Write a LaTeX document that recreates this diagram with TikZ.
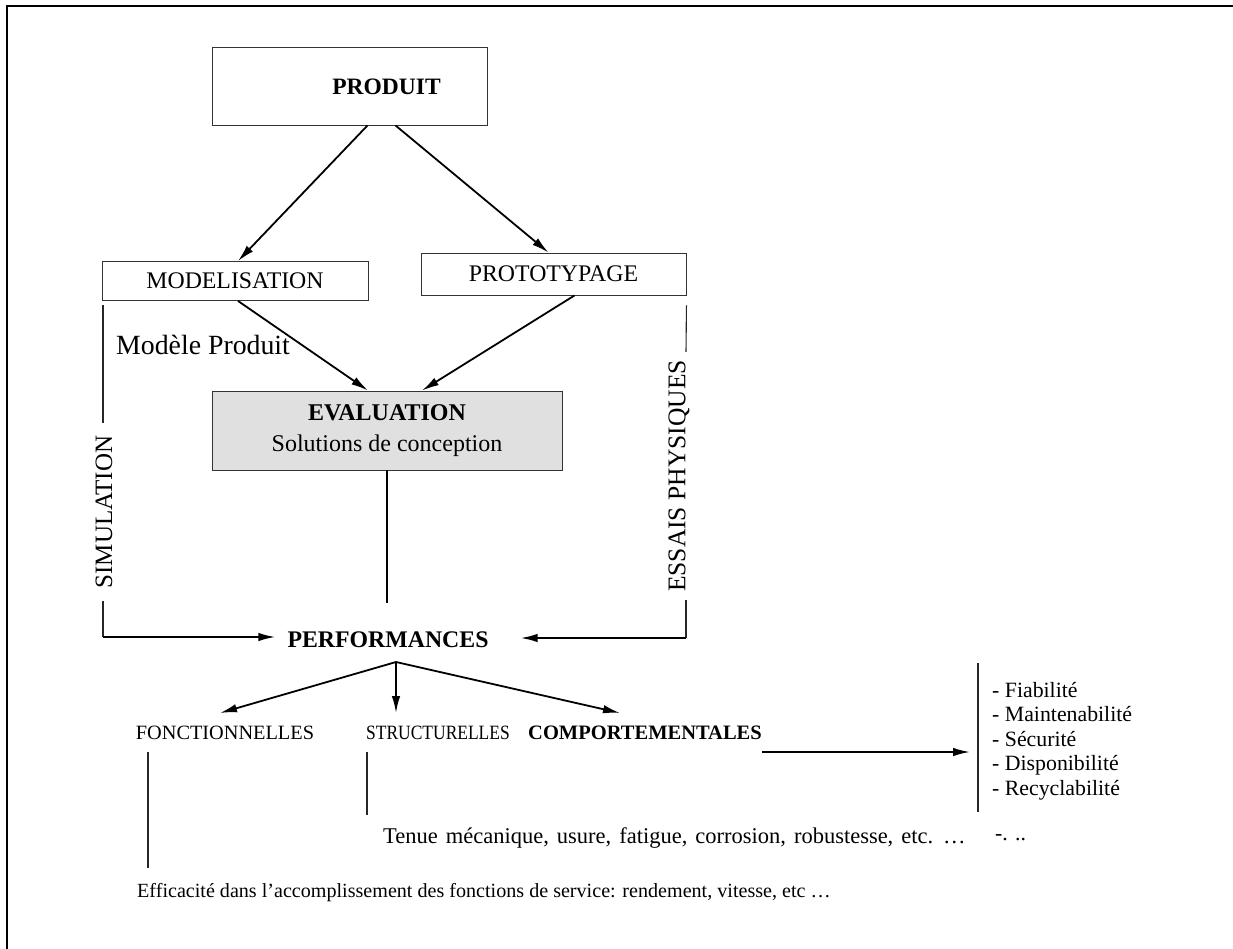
\documentclass[tikz,border=0pt]{standalone}
\usepackage{fontspec}
\usepackage{graphicx}
\setmainfont{Liberation Serif}
\usetikzlibrary{arrows.meta}
\begin{document}
\begin{tikzpicture}[x=1pt,y=-1pt,
  box/.style={draw=black!80, line width=0.9pt, inner sep=0pt},
  conn/.style={line width=1.8pt},
  thin line/.style={line width=1.1pt, draw=black!85},
  arr/.style={conn, -{Latex[length=17pt,width=8.5pt]}},
  big/.style={font=\fontsize{23.8}{27}\selectfont},
  mid/.style={font=\fontsize{20.3}{23}\selectfont},
  small/.style={font=\fontsize{21.8}{24.5}\selectfont},
  lbl/.style={inner sep=0pt}
]
\useasboundingbox (0,0) rectangle (1233,949);
% frame
\draw[line width=2pt] (1233,6) -- (7,6) -- (7,949);

% boxes
\node[box, minimum width=275pt, minimum height=78pt] (produit) at (349.5,86) {};
\node[lbl, font=\fontsize{23.5}{27}\selectfont] (produittext) at (386.5,87) {\bfseries PRODUIT};
\node[box, big, minimum width=266pt, minimum height=39pt] (model) at (235,281) {MODELISATION};
\node[box, big, minimum width=265pt, minimum height=42pt] (proto) at (553.5,274) {PROTOTYPAGE};
\node[box, fill=black!12, minimum width=350pt, minimum height=79pt, align=center,
      font=\fontsize{24}{31}\selectfont] (eval) at (387,430.5)
      {\bfseries EVALUATION\\Solutions de conception};
\node[lbl, font=\fontsize{27.8}{30}\selectfont, anchor=west] (modprod) at (116,345) {Modèle Produit};

% arrows between the boxes
\draw[arr] ([xshift=18pt]produit.south) -- ([xshift=3pt]model.north);
\draw[arr] ([xshift=46pt]produit.south) -- ([xshift=-5pt]proto.north);
\draw[arr] ([xshift=3pt]model.south) -- ([xshift=-19pt]eval.north);
\draw[arr] ([xshift=21pt]proto.south) -- ([xshift=35pt]eval.north);

% performances
\node[lbl, big] (perf) at (388,640) {\bfseries PERFORMANCES};
\coordinate (evalend) at (387,603);
\draw[conn, line width=1.2pt] (eval.south) -- (evalend);

% simulation branch
\node[font=\fontsize{25}{28}\selectfont, rotate=90, inner xsep=12pt, inner ysep=0pt] (sim) at (104,512) {SIMULATION};
\coordinate (simcorner) at (103,637);
\draw[thin line] ([yshift=-4pt]model.south west -| simcorner) -- (sim.east -| simcorner);
\draw[thin line] (sim.west -| simcorner) -- (simcorner);
\draw[arr] (simcorner) -- ([xshift=-12pt]perf.west |- simcorner);

% physical tests branch
\node[font=\fontsize{25.5}{29}\selectfont, rotate=90, inner xsep=8pt, inner ysep=0pt] (ess) at (679,476) {ESSAIS PHYSIQUES};
\coordinate (esscorner) at (686,638);
\draw[thin line] ([yshift=-10pt]proto.south east) -- (ess.east -| esscorner);
\draw[thin line] (ess.west -| esscorner) -- (esscorner);
\draw[arr] (esscorner) -- ([xshift=32pt]perf.east |- esscorner);

% kinds of performances
\node[lbl, mid] (fonc) at (225,733) {FONCTIONNELLES};
\node[lbl, mid] (struc) at (438,733) {\scalebox{0.86}[1]{STRUCTURELLES}};
\node[lbl, font=\fontsize{20.5}{23}\selectfont] (comp) at (645,733) {\bfseries COMPORTEMENTALES};
\coordinate (apex) at (396,662);
\coordinate (tipf) at (220,713);
\coordinate (tips) at (396,713);
\coordinate (tipc) at (620,713);
\draw[arr] (apex) -- (tipf);
\draw[arr] (apex) -- (tips);
\draw[arr] (apex) -- (tipc);

% behavioural criteria
\coordinate (compa) at (762,752);
\coordinate (compb) at (970,752);
\draw[arr] (compa) -- (compb);
\coordinate (bartop) at (978,663);
\coordinate (barbot) at (978,812);
\draw[thin line, line width=1.3pt] (bartop) -- (barbot);
\node[lbl, small, align=left, anchor=north west] (crit) at (992,682)
  {- Fiabilité\\- Maintenabilité\\- Sécurité\\- Disponibilité\\- Recyclabilité};

% structural details
\node[lbl, font=\fontsize{22.5}{25}\selectfont, anchor=west] (tenue) at (383,838)
  {\spaceskip=8pt plus 1pt Tenue mécanique, usure, fatigue, corrosion, robustesse, etc. …};
\node[lbl, small, anchor=west] (etc) at (995,838) {-. ..};
\coordinate (structop) at (367,752);
\coordinate (strucbot) at (367,815);
\draw[thin line] (structop) -- (strucbot);

% functional details
\node[lbl, font=\fontsize{20.1}{24}\selectfont, anchor=west] (effic) at (137,893) {Efficacité dans l’accomplissement des fonctions de service: rendement, vitesse, etc …};
\coordinate (fonctop) at (148,752);
\coordinate (foncbot) at (148,868);
\draw[thin line] (fonctop) -- (foncbot);
\end{tikzpicture}
\end{document}
